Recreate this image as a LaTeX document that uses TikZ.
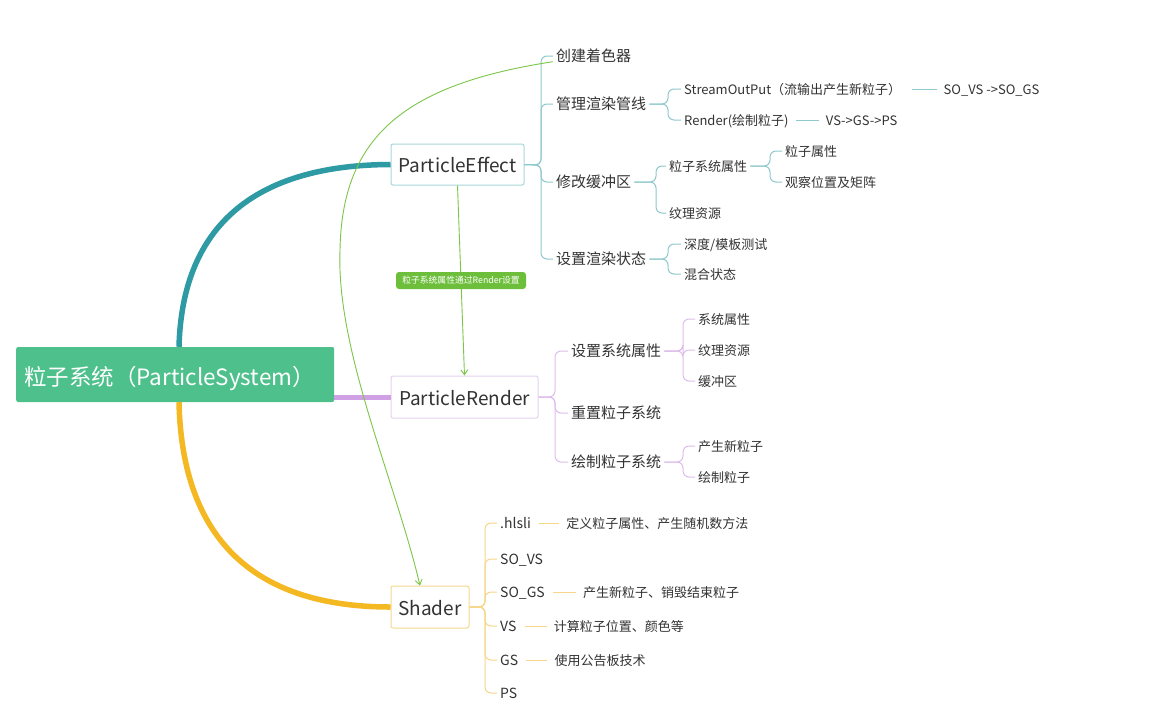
\documentclass[tikz,border=0pt]{standalone}
\usepackage{fontspec}
\setmainfont{Noto Sans CJK SC}
\usetikzlibrary{arrows.meta,calc}
\definecolor{rootg}{HTML}{4DC08C}
\definecolor{tealT}{HTML}{2E9AA4}
\definecolor{tealL}{HTML}{8FC8CD}
\definecolor{tealB}{HTML}{A9D6D9}
\definecolor{purT}{HTML}{CFA0E4}
\definecolor{purL}{HTML}{DEBDEC}
\definecolor{purB}{HTML}{E4D2EE}
\definecolor{yelT}{HTML}{F4B822}
\definecolor{yelL}{HTML}{F6D78A}
\definecolor{yelB}{HTML}{F4D88E}
\definecolor{relg}{HTML}{7CC647}
\definecolor{lblg}{HTML}{6DBE3B}
\definecolor{txt}{HTML}{333333}
\tikzset{
  tA/.style={anchor=west, inner xsep=3pt, inner ysep=0pt, text=txt,
    font=\fontsize{15}{18}\selectfont, text height=1.1em, text depth=0em},
  tB/.style={tA, font=\fontsize{13}{16}\selectfont},
  tS/.style={tA, font=\fontsize{14}{17}\selectfont},
  mainbox/.style={draw, line width=1pt, rounded corners=2pt, fill=white, text=txt,
    font=\fontsize{19}{23}\selectfont, inner sep=0pt, text height=1.68em, text depth=0em},
  tl/.style={draw=tealL, line width=1pt, rounded corners=6pt},
  pl/.style={draw=purL, line width=1pt, rounded corners=6pt},
  yl/.style={draw=yelL, line width=1pt, rounded corners=6pt},
  rel/.style={draw=relg, line width=0.9pt, -{Straight Barb[length=5pt,width=7pt]}},
}
\begin{document}
\begin{tikzpicture}[x=1pt,y=-1pt]
\useasboundingbox (0,0) rectangle (1153,707);
\fill[white] (0,0) rectangle (1153,707);

% ---------- root and main nodes ----------
\node[fill=rootg, rounded corners=2pt, anchor=west, inner sep=0pt,
      minimum width=318pt, minimum height=55pt] (root) at (16,374.5) {};
\node[anchor=west, text=white, inner xsep=0pt, inner ysep=0pt, text height=1.2em, text depth=0em,
      font=\fontsize{22.5}{26}\selectfont] (roottxt) at ([xshift=8pt,yshift=-4.5pt]root.west) {粒子系统（ParticleSystem）};
\node[mainbox, draw=tealB, minimum width=133pt, minimum height=41pt] (pe) at (457.5,164.5) {ParticleEffect};
\node[mainbox, draw=purB, minimum width=147pt, minimum height=42pt] (pr) at (464.5,397) {ParticleRender};
\node[mainbox, draw=yelB, minimum width=78pt, minimum height=42pt] (sh) at (430,607) {Shader};

% ---------- main branches ----------
\draw[tealT, line width=5.5pt] ([xshift=163pt]root.north west) .. controls (182,230) and (250,165) .. (pe.west);
\draw[yelT, line width=5.5pt] ([xshift=163pt]root.south west) .. controls (182,535) and (250,607) .. (sh.west);
\draw[purT, line width=5pt] (pr.west -| root.east) -- (pr.west);

% ---------- ParticleEffect subtree ----------
\node[tA] (pe1) at (553,56) {创建着色器};
\node[tA] (pe2) at (553,104) {管理渲染管线};
\node[tA] (pe3) at (553,182) {修改缓冲区};
\node[tA] (pe4) at (553,259) {设置渲染状态};
\coordinate (jpe) at (541,165);
\foreach \c in {pe1,pe2,pe3,pe4} \draw[tl] (pe.east) -- (jpe) |- (\c.west);

\node[tB] (pe21) at (681,89) {StreamOutPut（流输出产生新粒子）};
\node[tB] (pe22) at (681,120) {Render(绘制粒子)};
\coordinate (jpe2) at (668,104);
\foreach \c in {pe21,pe22} \draw[tl] (pe2.east) -- (jpe2) |- (\c.west);
\node[tB, anchor=west] (pe211) at ([xshift=36pt]pe21.east) {SO\_VS ->SO\_GS};
\node[tB, anchor=west] (pe221) at ([xshift=31pt]pe22.east) {VS->GS->PS};
\draw[tealL, line width=1pt] ([xshift=8pt]pe21.east) -- ([xshift=-3pt]pe211.west);
\draw[tealL, line width=1pt] ([xshift=4pt]pe22.east) -- ([xshift=-4pt]pe221.west);

\node[tB] (pe31) at (666,166) {粒子系统属性};
\node[tB] (pe32) at (666,213) {纹理资源};
\coordinate (jpe3) at (656,182);
\foreach \c in {pe31,pe32} \draw[tl] (pe3.east) -- (jpe3) |- (\c.west);
\node[tB] (pe311) at (782,151) {粒子属性};
\node[tB] (pe312) at (782,182) {观察位置及矩阵};
\coordinate (jpe31) at (770,166);
\foreach \c in {pe311,pe312} \draw[tl] (pe31.east) -- (jpe31) |- (\c.west);

\node[tB] (pe41) at (681,244) {深度/模板测试};
\node[tB] (pe42) at (681,274) {混合状态};
\coordinate (jpe4) at (668,259);
\foreach \c in {pe41,pe42} \draw[tl] (pe4.east) -- (jpe4) |- (\c.west);

% ---------- ParticleRender subtree ----------
\node[tA] (pr1) at (568,351) {设置系统属性};
\node[tA] (pr2) at (568,413) {重置粒子系统};
\node[tA] (pr3) at (568,462) {绘制粒子系统};
\coordinate (jpr) at (555,397);
\foreach \c in {pr1,pr2,pr3} \draw[pl] (pr.east) -- (jpr) |- (\c.west);
\node[tB] (pr11) at (695,319) {系统属性};
\node[tB] (pr12) at (695,350) {纹理资源};
\node[tB] (pr13) at (695,381) {缓冲区};
\coordinate (jpr1) at (683,351);
\foreach \c in {pr11,pr12,pr13} \draw[pl] (pr1.east) -- (jpr1) |- (\c.west);
\node[tB] (pr31) at (695,446) {产生新粒子};
\node[tB] (pr32) at (695,477) {绘制粒子};
\coordinate (jpr3) at (683,462);
\foreach \c in {pr31,pr32} \draw[pl] (pr3.east) -- (jpr3) |- (\c.west);

% ---------- Shader subtree ----------
\node[tS] (sh1) at (497,523) {.hlsli};
\node[tS] (sh2) at (497,559) {SO\_VS};
\node[tS] (sh3) at (497,592) {SO\_GS};
\node[tS] (sh4) at (497,626) {VS};
\node[tS] (sh5) at (497,660) {GS};
\node[tS] (sh6) at (497,693) {PS};
\coordinate (jsh) at (485,607);
\foreach \c in {sh1,sh2,sh3,sh4,sh5,sh6} \draw[yl] (sh.east) -- (jsh) |- (\c.west);
\node[tB] (sh11) at ([xshift=29pt]sh1.east) {定义粒子属性、产生随机数方法};
\node[tB] (sh31) at ([xshift=32pt]sh3.east) {产生新粒子、销毁结束粒子};
\node[tB] (sh41) at ([xshift=31pt]sh4.east) {计算粒子位置、颜色等};
\node[tB] (sh51) at ([xshift=30pt]sh5.east) {使用公告板技术};
\foreach \a/\b in {sh1/sh11,sh3/sh31,sh4/sh41,sh5/sh51}
  \draw[yelL, line width=1pt] ([xshift=5pt]\a.east) -- ([xshift=-4pt]\b.west);

% ---------- relationships ----------
\draw[rel] (pe1.south west) .. controls (400,85) and (342,140) .. (340,250)
   .. controls (336,350) and (395,480) .. ([xshift=-10pt]sh.north);
\draw[rel] (pe.south) -- node[pos=0.5, fill=lblg, rounded corners=3pt, text=white,
   inner sep=0pt, minimum width=130pt, minimum height=17pt,
   font=\fontsize{8.8}{10}\selectfont] (lbl) {粒子系统属性通过Render设置} (pr.north);
\end{tikzpicture}
\end{document}
